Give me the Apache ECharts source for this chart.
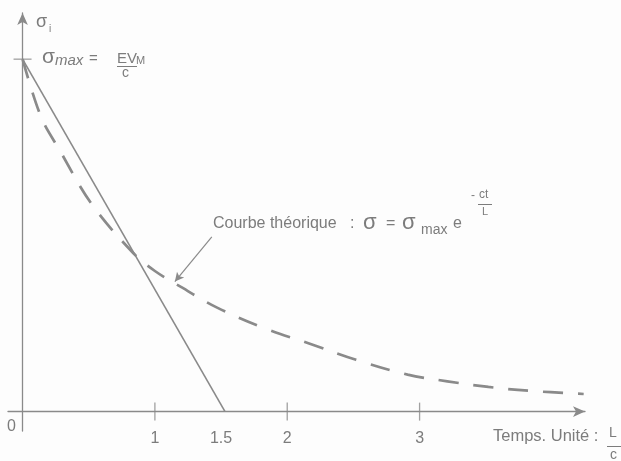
<!DOCTYPE html>
<html>
<head>
<meta charset="utf-8">
<script src="https://cdn.jsdelivr.net/npm/echarts@6/dist/echarts.min.js"></script>
<style>
  html, body { margin: 0; padding: 0; background: #fdfdfd; }
  #chart { width: 621px; height: 461px; }
</style>
</head>
<body>
<div id="chart"></div>
<script>
// temps en unités L/c, contrainte en fraction de sigma max
const solidT = [0, 1.53];
const solidV = [1, 0];
const curveT = [0, 0.14, 0.28, 0.52, 0.836, 1.0, 1.2, 1.47, 1.86, 2.16, 2.52, 2.91, 3.21, 3.52, 3.83, 4.24];
const curveV = [1, 0.836, 0.742, 0.59, 0.45, 0.399, 0.353, 0.295, 0.232, 0.194, 0.147, 0.105, 0.086, 0.07, 0.059, 0.05];
const xTicks = [1, 2, 3];
const xLabels = [1, 1.5, 2, 3];
const yTicks = [1];
const arrowFrom = [1.43, 0.496];
const arrowTo = [1.151, 0.369];

const lineColor = "#8a8a8a";
const textColor = "#7c7c7c";
const font = "'Liberation Sans', Arial, sans-serif";

const myChart = echarts.init(document.getElementById("chart"));

function txt(left, top, text, size, extra) {
  return {
    type: "text", left: left, top: top,
    style: Object.assign({ text: text, fontSize: size, fontFamily: font, fill: textColor }, extra || {}),
  };
}
function bar(x1, x2, y) {
  return { type: "line", shape: { x1: x1, y1: y, x2: x2, y2: y }, style: { stroke: textColor, lineWidth: 1 } };
}

const option = {
  backgroundColor: "#fdfdfd",
  animation: false,
  textStyle: { fontFamily: font, color: textColor },
  grid: { left: 8, right: 36, top: 13, bottom: 30, containLabel: false },
  xAxis: {
    type: "value",
    min: -0.11,
    max: 4.25,
    splitLine: { show: false },
    axisTick: { show: false },
    axisLine: {
      onZero: true,
      symbol: ["none", "arrow"],
      symbolSize: [8, 12],
      lineStyle: { color: lineColor, width: 1.3 },
    },
    axisLabel: {
      customValues: xLabels,
      margin: 0,
      color: textColor,
      fontSize: 16,
      fontFamily: font,
      formatter: (v) => String(v),
    },
  },
  yAxis: {
    type: "value",
    min: -0.055,
    max: 1.131,
    splitLine: { show: false },
    axisTick: { show: false },
    axisLabel: { show: false },
    axisLine: {
      show: true,
      onZero: true,
      symbol: ["none", "arrow"],
      symbolSize: [8, 12],
      lineStyle: { color: lineColor, width: 1.3 },
    },
  },
  series: [
    {
      name: "linéaire",
      type: "line",
      showSymbol: false,
      silent: true,
      lineStyle: { color: lineColor, width: 1.6 },
      data: solidT.map((t, i) => [t, solidV[i]]),
    },
    {
      name: "théorique",
      type: "line",
      smooth: 0.35,
      showSymbol: false,
      silent: true,
      lineStyle: { color: lineColor, width: 2.7, type: [20, 15] },
      data: curveT.map((t, i) => [t, curveV[i]]),
      markLine: {
        silent: true,
        symbol: ["none", "arrow"],
        symbolSize: [7, 9],
        label: { show: false },
        lineStyle: { color: lineColor, width: 1.2, type: "solid" },
        data: [[{ coord: arrowFrom }, { coord: arrowTo }]],
      },
    },
    {
      name: "graduations x",
      type: "scatter",
      silent: true,
      symbol: "rect",
      symbolSize: [1.3, 18],
      itemStyle: { color: lineColor },
      data: xTicks.map((t) => [t, 0]),
    },
    {
      name: "graduations y",
      type: "scatter",
      silent: true,
      symbol: "rect",
      symbolSize: [18, 1.3],
      itemStyle: { color: lineColor },
      data: yTicks.map((v) => [0, v]),
    },
  ],
  graphic: [
    // origine
    txt(7, 419, "0", 16),
    // sigma i
    txt(36, 13, "σ", 18),
    txt(49, 24, "i", 10),
    // sigma max = EV_M / c
    txt(42, 47, "σ", 21),
    txt(55, 53, "max", 15, { fontStyle: "italic" }),
    txt(89, 51, "=", 15),
    txt(117, 51, "EV", 15),
    txt(136, 55, "M", 11),
    bar(117, 137, 66.5),
    txt(122, 66, "c", 14),
    // courbe théorique
    txt(213, 216, "Courbe théorique", 16),
    txt(350, 216, ":", 16),
    txt(363, 212, "σ", 22),
    txt(386, 216, "=", 16),
    txt(402, 212, "σ", 22),
    txt(421, 223, "max", 14),
    txt(453, 216, "e", 16),
    txt(471, 190, "-", 12),
    txt(479, 189, "ct", 12),
    bar(478, 492, 204.5),
    txt(482, 206, "L", 11),
    // axe des temps
    txt(493, 428, "Temps. Unité :", 16.5),
    txt(609, 426, "L", 14),
    bar(607, 621, 446.5),
    txt(610, 448, "c", 14),
  ],
};

myChart.setOption(option);
</script>
</body>
</html>
